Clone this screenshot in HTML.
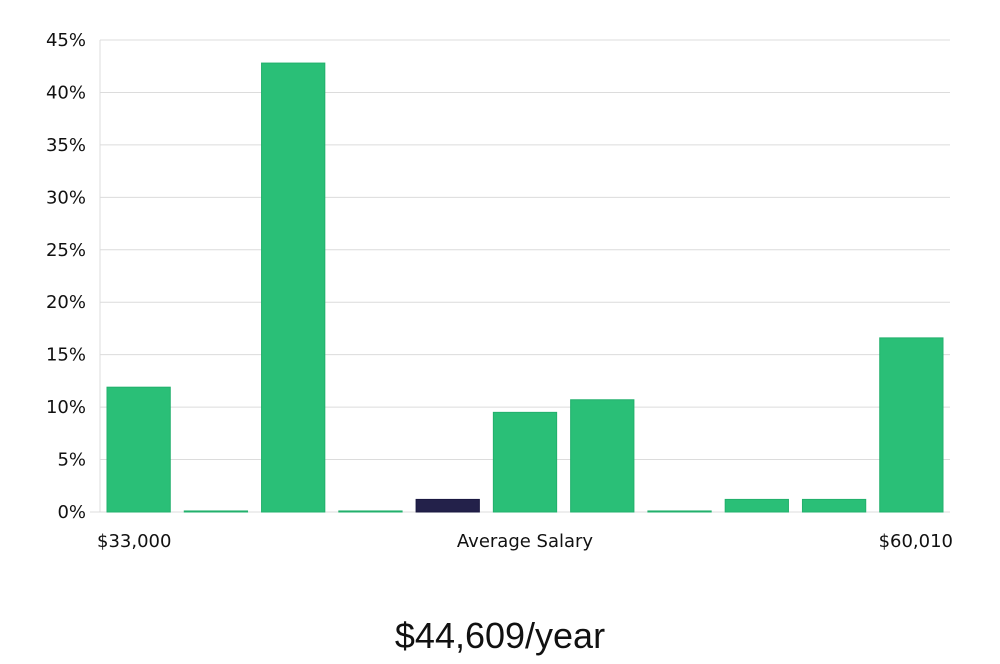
<!DOCTYPE html>
<html><head><meta charset="utf-8"><style>
body{margin:0;background:#fff;width:1000px;height:660px;overflow:hidden;font-family:"DejaVu Sans","Liberation Sans",sans-serif;}
svg text{font-family:"DejaVu Sans","Liberation Sans",sans-serif;}
</style></head><body>
<svg id="chart" width="1000" height="660" xmlns="http://www.w3.org/2000/svg">
<g id="grid"></g>
<g id="bars"></g>
<g id="yaxis"></g>
<text x="97" y="547" font-size="18" fill="#111">$33,000</text>
<text x="525" y="547" font-size="18" fill="#111" text-anchor="middle">Average Salary</text>
<text x="953" y="547" font-size="18" fill="#111" text-anchor="end">$60,010</text>
<text x="500" y="648" font-size="36" fill="#111" text-anchor="middle" font-family="Liberation Sans, sans-serif" style="font-family:'Liberation Sans',sans-serif;font-weight:300">$44,609/year</text>
</svg>
<script>
const categories=["b1","b2","b3","b4","b5","b6","b7","b8","b9","b10","b11"];
const values=[11.9,0.1,42.8,0.1,1.2,9.5,10.7,0.1,1.2,1.2,16.6];
const highlight=[false,false,false,false,true,false,false,false,false,false,false];
const yTicks=[0,5,10,15,20,25,30,35,40,45];
const NS="http://www.w3.org/2000/svg";
const x0=100,x1=950,yb=512,yt=40,yMax=45;
function y(v){return yb-(v/yMax)*(yb-yt);}
const bw=(x1-x0)/categories.length;
function x(i){return x0+i*bw;}
const grid=document.getElementById('grid'),ya=document.getElementById('yaxis'),bars=document.getElementById('bars');
yTicks.forEach(t=>{
  const l=document.createElementNS(NS,'line');
  
  
  l.setAttribute('x1',t===0?90:x0);l.setAttribute('x2',x1);l.setAttribute('y1',y(t));l.setAttribute('y2',y(t));
  l.setAttribute('stroke','#dcdcdc');l.setAttribute('stroke-width','1');grid.appendChild(l);
  const tx=document.createElementNS(NS,'text');
  
  
  tx.setAttribute('x',86);tx.setAttribute('y',y(t)+6);tx.setAttribute('text-anchor','end');tx.setAttribute('font-size','18');tx.setAttribute('fill','#111');
  tx.textContent=t+'%';ya.appendChild(tx);
});
const ax=document.createElementNS(NS,'line');


ax.setAttribute('x1',x0);ax.setAttribute('x2',x0);ax.setAttribute('y1',yt);ax.setAttribute('y2',yb);ax.setAttribute('stroke','#dcdcdc');ya.appendChild(ax);
values.forEach((v,i)=>{
  const r=document.createElementNS(NS,'rect');
  
  
  const pad=7;
  r.setAttribute('x',x(i)+pad);r.setAttribute('width',bw-2*pad);
  r.setAttribute('y',y(v));r.setAttribute('height',Math.max(1,yb-y(v)));
  r.setAttribute('fill',highlight[i]?'#23214a':'#2abf77');
  r.setAttribute('stroke',highlight[i]?'#1a1840':'#22b06c');r.setAttribute('stroke-width','1');
  bars.appendChild(r);
});
</script>
</body></html>
